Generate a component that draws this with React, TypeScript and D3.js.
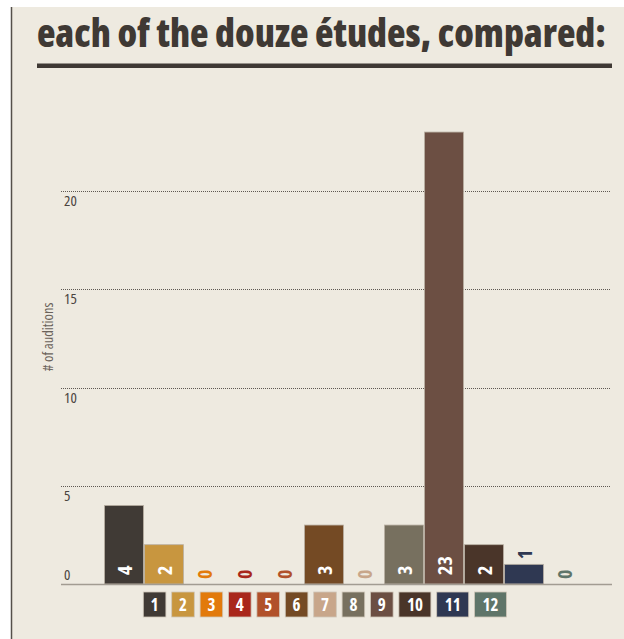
import React from "react";
import * as d3 from "d3";

// data
const etudes = ["1", "2", "3", "4", "5", "6", "7", "8", "9", "10", "11", "12"];
const auditions = [4, 2, 0, 0, 0, 3, 0, 3, 23, 2, 1, 0];
const etudeColors = [
  "#403a35", "#c8963f", "#e27a0b", "#a9271b", "#b1512a", "#744a24",
  "#c8a68a", "#77705f", "#6c4f43", "#4a3529", "#2f3852", "#5f7569",
];
const yTicks = [0, 5, 10, 15, 20];

const W = 624;
const H = 639;
const BG = "#eeeae0";
const INK = "#3f3934";
const FONT = "'Open Sans', 'DejaVu Sans', sans-serif";
const narrow = { fontStretch: "condensed" } as React.CSSProperties;

const App = () => {
  const x = d3.scaleBand<string>().domain(etudes).range([104, 584]).paddingInner(0);
  const y = d3.scaleLinear().domain([0, 20]).range([584, 191]);

  // legend boxes laid out like inline spans
  let cursor = 143.3;
  const legend = etudes.map((e, i) => {
    const w = e.length > 1 ? 32 : 22.6;
    const item = { e, x: cursor, w, color: etudeColors[i] };
    cursor += w + 5.8;
    return item;
  });

  return (
    <svg
      width={W}
      height={H}
      style={{ position: "absolute", left: 0, top: 0, display: "block" }}
    >
      <rect x={0} y={0} width={W} height={H} fill="#ffffff" />
      <rect x={11} y={7} width={W - 11} height={H - 7} fill={BG} />
      <line x1={11.5} y1={7} x2={11.5} y2={H} stroke="#55504a" strokeWidth={1.5} />

      {/* title */}
      <text
        x={37}
        y={47}
        fontFamily={FONT}
        fontWeight={800}
        fontSize={39}
        fill={INK}
        textLength={569}
        lengthAdjust="spacingAndGlyphs"
        style={narrow}
      >
        each of the douze études, compared:
      </text>
      <rect x={37} y={63.5} width={575} height={4.5} fill={INK} />

      {/* grid */}
      {yTicks.filter((t) => t > 0).map((t) => (
        <line
          key={t}
          x1={61}
          x2={611}
          y1={Math.round(y(t)) + 0.5}
          y2={Math.round(y(t)) + 0.5}
          stroke="#5e5852"
          strokeDasharray="1,1"
          strokeWidth={1}
        />
      ))}
      {yTicks.map((t) => (
        <text
          key={t}
          x={64}
          y={t === 0 ? y(t) - 4 : y(t) + 15}
          fontFamily={FONT}
          fontSize={15}
          fill="#4a443e"
          style={narrow}
        >
          {t}
        </text>
      ))}
      <text
        transform={`translate(53,337) rotate(-90)`}
        textAnchor="middle"
        fontFamily={FONT}
        fontSize={14.5}
        fill="#6a625a"
        style={narrow}
      >
        # of auditions
      </text>

      {/* bars */}
      {etudes.map((e, i) => {
        const v = auditions[i];
        const bx = x(e)!;
        const bw = x.bandwidth() - 1;
        const cx = bx + x.bandwidth() / 2;
        const inside = v >= 2;
        const ly = inside ? y(0) - 9 : y(v) - 5;
        return (
          <g key={e}>
            {v > 0 && (
              <rect
                x={bx + 0.5}
                y={y(v)}
                width={bw}
                height={y(0) - y(v)}
                fill={etudeColors[i]}
                stroke="#b9b0a3"
                strokeWidth={0.8}
              />
            )}
            <text
              transform={`translate(${cx},${ly}) rotate(-90)`}
              dominantBaseline="central"
              fontFamily={FONT}
              fontWeight={700}
              fontSize={20}
              fill={inside ? "#ffffff" : etudeColors[i]}
              style={narrow}
            >
              {v}
            </text>
          </g>
        );
      })}
      <line x1={61} x2={612} y1={y(0) + 0.5} y2={y(0) + 0.5} stroke="#a29c92" strokeWidth={1.6} />

      {/* legend */}
      {legend.map((d) => (
        <g key={d.e}>
          <rect
            x={d.x}
            y={592}
            width={d.w}
            height={25}
            fill={d.color}
            stroke="#cfc7ba"
            strokeWidth={0.8}
          />
          <text
            x={d.x + d.w / 2}
            y={610.5}
            textAnchor="middle"
            fontFamily={FONT}
            fontWeight={700}
            fontSize={17}
            fill="#ffffff"
            style={narrow}
          >
            {d.e}
          </text>
        </g>
      ))}
    </svg>
  );
};

export default App;
